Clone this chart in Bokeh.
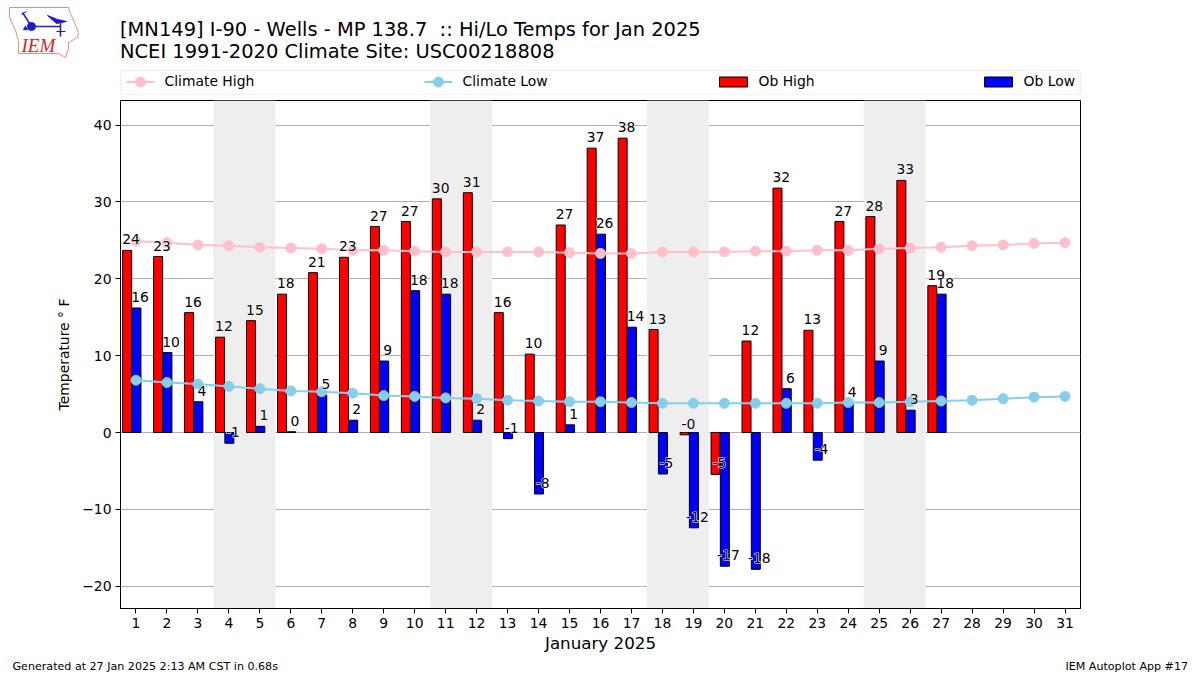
from bokeh.plotting import figure
from bokeh.layouts import column
from bokeh.embed import file_html
from bokeh.resources import INLINE
from bokeh.core.properties import value
from bokeh.models import BoxAnnotation, ColumnDataSource, FixedTicker

days = list(range(1, 32))
obs_days = list(range(1, 28))
ob_high = [23.7, 22.9, 15.6, 12.4, 14.55, 18.0, 20.8, 22.8, 26.8, 27.45, 30.4, 31.2, 15.6, 10.2,
           27.0, 37.0, 38.3, 13.4, -0.3, -5.45, 11.9, 31.8, 13.3, 27.45, 28.1, 32.8, 19.1]
ob_low = [16.2, 10.4, 4.0, -1.4, 0.8, 0.1, 4.9, 1.6, 9.3, 18.45, 18.0, 1.6, -0.8, -8.0,
          1.0, 25.8, 13.7, -5.4, -12.4, -17.4, -17.8, 5.7, -3.6, 3.8, 9.3, 2.9, 18.0]
climate_high = [24.9, 24.7, 24.4, 24.3, 24.1, 24.0, 23.9, 23.7, 23.7, 23.6, 23.5, 23.5, 23.5, 23.5,
                23.4, 23.3, 23.3, 23.5, 23.5, 23.5, 23.6, 23.6, 23.7, 23.7, 23.9, 24.0, 24.1, 24.3,
                24.4, 24.6, 24.7]
climate_low = [6.8, 6.5, 6.3, 6.0, 5.7, 5.4, 5.3, 5.1, 4.8, 4.7, 4.5, 4.4, 4.2, 4.1, 4.0, 4.0, 3.9,
               3.8, 3.8, 3.8, 3.8, 3.8, 3.8, 3.9, 3.9, 4.0, 4.1, 4.2, 4.4, 4.6, 4.7]
weekend_bands = [(3.5, 5.5), (10.5, 12.5), (17.5, 19.5), (24.5, 26.5)]
y_ticks = [-20, -10, 0, 10, 20, 30, 40]
title_lines = ["[MN149] I-90 - Wells - MP 138.7 \u00a0:: Hi/Lo Temps for Jan 2025",
               "NCEI 1991-2020 Climate Site: USC00218808"]
footer_left = "Generated at 27 Jan 2025 2:13 AM CST in 0.68s"
footer_right = "IEM Autoplot App #17"

W = 1192
HEAD, FOOT = 95, 15
MAIN = 563
FONT = "DejaVu Sans"
TICK = "13.9px"


def canvas(height):
    f = figure(width=W, height=height, output_backend="svg", toolbar_location=None,
               x_range=(0, W), y_range=(height, 0), x_axis_type=None, y_axis_type=None,
               min_border=0, min_border_left=0, min_border_right=0, min_border_top=0, min_border_bottom=0,
               outline_line_color=None, frame_align=False)
    f.grid.visible = False
    return f


# ---------- header: logo, titles, legend ----------
head = canvas(HEAD)
head.patch([9, 68, 70, 74, 78, 77, 68, 68, 65, 58, 18, 18, 15, 9],
           [7, 7, 13, 22, 32, 37, 42, 48, 57, 53, 53, 40, 30, 17],
           fill_alpha=0, line_color="#e58a8a", line_width=1)
BLUE = "#1c1cd0"
head.line([22, 31, 60], [12, 26, 26], line_color=BLUE, line_width=1.5)
head.line([60, 60], [22, 36], line_color=BLUE, line_width=1.5)
head.line([21, 26], [14, 11], line_color=BLUE, line_width=1)
head.line([56, 65], [31, 31], line_color=BLUE, line_width=1)
head.patch([47, 57, 66, 56], [15, 19, 21, 23], fill_color=BLUE, line_color=BLUE)
head.scatter([31], [26], marker="circle", size=8, fill_color=BLUE, line_color=BLUE)
head.scatter([25], [28], marker="triangle", size=4, fill_color=BLUE, line_color=BLUE)
head.text([21], [45], text=["IEM"], text_font=value("Liberation Serif"), text_font_style="italic",
          text_font_size="19px", text_color="#d02828", text_baseline="alphabetic")

for line, ybase in zip(title_lines, (29, 51)):
    head.text([119.5], [ybase], text=[line], text_font=value(FONT), text_font_size="19.45px",
              text_color="black", text_baseline="alphabetic")

head.add_layout(BoxAnnotation(left=120.5, right=1080, top=70, bottom=94.5,
                              fill_color="white", fill_alpha=1, line_color="#cccccc", line_width=1.5,
                              border_radius=3, level="underlay"))
legend_y = 81.5
for name, color, x0 in (("Climate High", "pink", 126), ("Climate Low", "skyblue", 424)):
    head.line([x0, x0 + 28], [legend_y, legend_y], line_color=color, line_width=2)
    head.scatter([x0 + 14], [legend_y], marker="circle", size=10, fill_color=color, line_color=color)
    head.text([x0 + 38], [legend_y - 1], text=[name], text_font=value(FONT), text_font_size=TICK,
              text_color="black", text_baseline="middle")
for name, color, x0 in (("Ob High", "red", 719), ("Ob Low", "blue", 984)):
    head.quad(left=[x0], right=[x0 + 28], top=[legend_y - 5], bottom=[legend_y + 5],
              fill_color=color, line_color="black", line_width=1)
    head.text([x0 + 39], [legend_y - 1], text=[name], text_font=value(FONT), text_font_size=TICK,
              text_color="black", text_baseline="middle")

# ---------- main chart ----------
p = figure(width=W, height=MAIN, output_backend="svg", toolbar_location=None,
           x_range=(0.5, 31.5), y_range=(-22.9, 43.2), frame_align=False,
           min_border_left=120, min_border_right=W - 1080, min_border_top=5, min_border_bottom=50,
           background_fill_color="white", outline_line_color="black", outline_line_width=1)

p.xaxis.ticker = FixedTicker(ticks=days)
p.yaxis.ticker = FixedTicker(ticks=y_ticks)
p.yaxis.major_label_overrides = {t: str(t).replace("-", "\u2212") for t in y_ticks}
for ax in (p.xaxis[0], p.yaxis[0]):
    ax.minor_tick_line_color = None
    ax.major_tick_in = 0
    ax.major_tick_out = 5
    ax.major_tick_line_color = "black"
    ax.axis_line_color = "black"
    ax.major_label_text_font = FONT
    ax.major_label_text_font_size = TICK
    ax.major_label_text_color = "black"
    ax.axis_label_text_font = FONT
    ax.axis_label_text_font_style = "normal"
    ax.axis_label_text_color = "black"
p.xaxis.axis_label = "January 2025"
p.xaxis.axis_label_text_font_size = "16.7px"
p.xaxis.axis_label_standoff = 2
p.xaxis.major_label_standoff = 4
p.yaxis.axis_label = "Temperature \u00b0 F"
p.yaxis.axis_label_text_font_size = TICK
p.yaxis.axis_label_standoff = 7
p.yaxis.major_label_standoff = 4
p.xgrid.visible = False
p.ygrid.grid_line_color = "#b0b0b0"
p.ygrid.grid_line_width = 1

for lo, hi in weekend_bands:
    p.add_layout(BoxAnnotation(left=lo, right=hi, fill_color="#eeeeee", fill_alpha=1,
                               line_color=None, level="underlay"))

src = ColumnDataSource(dict(
    high=ob_high,
    low=ob_low,
    x_high=[d - 0.285 for d in obs_days],
    x_low=[d + 0.015 for d in obs_days],
    x_high_label=[d - 0.16 for d in obs_days],
    x_low_label=[d + 0.13 for d in obs_days],
    high_label=[f"{v:.0f}" for v in ob_high],
    low_label=[f"{v:.0f}" for v in ob_low],
))
clim = ColumnDataSource(dict(day=days, high=climate_high, low=climate_low))

p.vbar(x="x_high", top="high", bottom=0, width=0.29, source=src,
       fill_color="red", line_color="black", line_width=1)
p.vbar(x="x_low", top="low", bottom=0, width=0.29, source=src,
       fill_color="blue", line_color="black", line_width=1)

for col, color in (("high", "pink"), ("low", "skyblue")):
    p.line("day", col, source=clim, line_color=color, line_width=2)
    p.scatter("day", col, source=clim, marker="circle", size=10, fill_color=color, line_color=color)

for xcol, ycol, tcol in (("x_high_label", "high", "high_label"), ("x_low_label", "low", "low_label")):
    p.text(xcol, ycol, text=tcol, source=src, text_font=value(FONT), text_font_size=TICK,
           text_align="center", text_baseline="alphabetic", y_offset=-11, text_color="white",
           text_outline_color="white")
    p.text(xcol, ycol, text=tcol, source=src, text_font=value(FONT), text_font_size=TICK,
           text_align="center", text_baseline="alphabetic", y_offset=-11, text_color="black")

# ---------- footer ----------
foot = canvas(FOOT)
foot.text([12], [8], text=[footer_left], text_font=value(FONT), text_font_size="11.1px",
          text_color="black", text_baseline="alphabetic")
foot.text([1187.5], [8], text=[footer_right], text_font=value(FONT), text_font_size="11.1px",
          text_color="black", text_align="right", text_baseline="alphabetic")

layout = column(head, p, foot, spacing=0)
open("out.html", "w").write(file_html(layout, INLINE))
